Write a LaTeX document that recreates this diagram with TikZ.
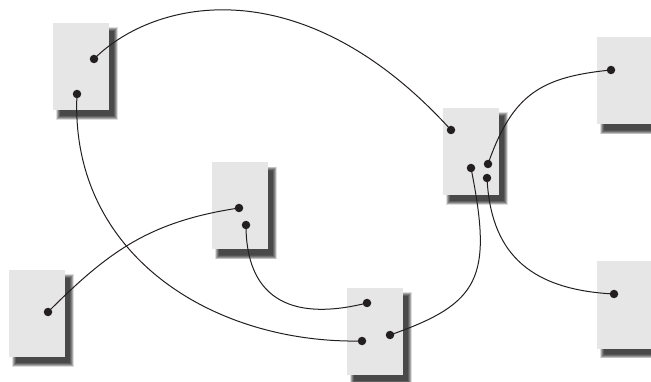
\documentclass[tikz,border=0pt]{standalone}
\usepackage{xcolor}
\usepackage{tikz}
\usetikzlibrary{backgrounds,calc}
\definecolor{nwCard}{HTML}{E6E6E6}
\definecolor{nwInk}{HTML}{231F20}
\tikzset{
  % Light gray card
  card/.style={rectangle,minimum width=56pt,minimum height=87pt,
    inner sep=0pt,fill=nwCard},
  % Black terminal dot
  pin/.style={circle,minimum size=8.5pt,inner sep=0pt,fill=nwInk},
  % Curved wire
  wire/.style={line width=1pt,color=nwInk},
  % One soft layer of the card shadow
  cardshadow/.style={fill=black,opacity=0.13},
}

\begin{document}
\begin{tikzpicture}[x=1pt,y=-1pt]
  \useasboundingbox (0,0) rectangle (651,382);

  %% --- CARDS ---
  \node[card] (cardTL) at (81,66.5) {};
  \node[card] (cardM)  at (471,151.5) {};
  \node[card] (cardB)  at (375,331.5) {};
  \node[card] (cardC)  at (240,206) {};
  \node[card] (cardBL) at (37,313.5) {};
  \node[card] (cardTR) at (625,81) {};
  \node[card] (cardBR) at (625,305) {};

  %% --- PINS ---
  \node[pin] (tlA) at (94,59) {};
  \node[pin] (tlB) at (77,94) {};
  \node[pin] (mA)  at (451,130) {};
  \node[pin] (mB)  at (471,168) {};
  \node[pin] (mC)  at (488,164) {};
  \node[pin] (mD)  at (487,178) {};
  \node[pin] (bA)  at (367,303) {};
  \node[pin] (bB)  at (362,341) {};
  \node[pin] (bC)  at (390,335) {};
  \node[pin] (cA)  at (239,208) {};
  \node[pin] (cB)  at (246,225) {};
  \node[pin] (blA) at (48,312) {};
  \node[pin] (trA) at (611,70) {};
  \node[pin] (brA) at (614,294) {};

  %% --- WIRES ---
  \draw[wire] (tlA.center) .. controls +(61,-61) and +(-148,-163) .. (mA.center);
  \draw[wire] (tlB.center) .. controls +(-8,160) and +(-150,3) .. (bB.center);
  \draw[wire] (cA.center) .. controls +(-90,13.5) and +(60,-60) .. (blA.center);
  \draw[wire] (cB.center) .. controls +(0,70) and +(-80,20) .. (bA.center);
  \draw[wire] (mB.center) .. controls +(22,110) and +(90,-31.5) .. (bC.center);
  \draw[wire] (mC.center) .. controls +(24.5,-70) and +(-70,7) .. (trA.center);
  \draw[wire] (mD.center) .. controls +(3.5,70) and +(-90,-4.5) .. (brA.center);

  % Soft shadows behind the cards
  \begin{scope}[on background layer]
    \foreach \c in {cardTL,cardM,cardB,cardC,cardBL,cardTR,cardBR}
      \foreach \g in {0,0.5,...,4}
        \fill[cardshadow] ($(\c.north west)+(7.5-\g,8.5-\g)$)
          rectangle ($(\c.south east)+(4.5+\g,5.5+\g)$);
  \end{scope}
\end{tikzpicture}
\end{document}
